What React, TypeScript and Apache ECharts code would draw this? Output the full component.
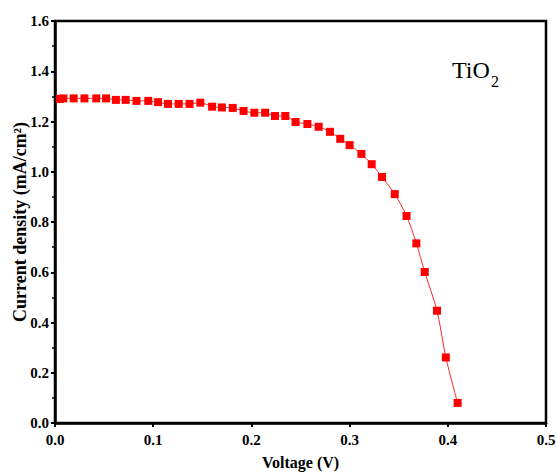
import React, { useEffect, useRef } from "react";
import * as echarts from "echarts";

const voltage = [0.005, 0.0085, 0.019, 0.030, 0.042, 0.052, 0.062, 0.072, 0.083, 0.095, 0.105, 0.115, 0.126, 0.137, 0.148, 0.160, 0.170, 0.181, 0.192, 0.203, 0.214, 0.224, 0.2345, 0.245, 0.257, 0.2685, 0.280, 0.2905, 0.300, 0.312, 0.3225, 0.333, 0.346, 0.358, 0.368, 0.3765, 0.389, 0.398, 0.410];
const current = [1.290, 1.292, 1.292, 1.292, 1.292, 1.292, 1.286, 1.286, 1.282, 1.282, 1.277, 1.270, 1.270, 1.270, 1.275, 1.259, 1.256, 1.254, 1.242, 1.235, 1.235, 1.222, 1.222, 1.198, 1.190, 1.179, 1.159, 1.131, 1.106, 1.071, 1.030, 0.979, 0.911, 0.824, 0.715, 0.601, 0.447, 0.261, 0.080];
const xTicks = ["0.0", "0.1", "0.2", "0.3", "0.4", "0.5"];
const yTicks = ["0.0", "0.2", "0.4", "0.6", "0.8", "1.0", "1.2", "1.4", "1.6"];

const FONT = "'Liberation Serif', 'DejaVu Serif', serif";

export default function App() {
  const ref = useRef<HTMLDivElement>(null);
  useEffect(() => {
    if (!ref.current) return;
    const chart = echarts.init(ref.current, undefined, { renderer: "svg" });
    const data = voltage.map((v, i) => [v, current[i]]);
    chart.setOption({
      animation: false,
      backgroundColor: "#ffffff",
      grid: {
        left: 55,
        right: 11,
        top: 21,
        bottom: 49,
        containLabel: false,
        outerBoundsMode: "none",
        show: true,
        borderColor: "#000",
        borderWidth: 2.5,
        backgroundColor: "transparent",
      },
      xAxis: {
        type: "value",
        min: 0,
        max: 0.5,
        interval: 0.1,
        name: "Voltage (V)",
        nameLocation: "middle",
        nameGap: 31,
        nameMoveOverlap: false,
        nameTextStyle: { fontFamily: FONT, fontWeight: "bold", fontSize: 16, color: "#000" },
        axisLine: { show: true, lineStyle: { color: "#000", width: 2.5 } },
        axisTick: { show: true, inside: false, length: 4, lineStyle: { color: "#000", width: 2 } },
        axisLabel: {
          fontFamily: FONT,
          fontWeight: "bold",
          fontSize: 15,
          color: "#000",
          margin: 9,
          formatter: (v: number) => xTicks[Math.round(v * 10)] ?? "",
        },
        splitLine: { show: false },
      },
      yAxis: {
        type: "value",
        min: 0,
        max: 1.6,
        interval: 0.2,
        name: "Current density (mA/cm²)",
        nameLocation: "middle",
        nameGap: 26,
        nameMoveOverlap: false,
        nameTextStyle: { fontFamily: FONT, fontWeight: "bold", fontSize: 18, color: "#000" },
        axisLine: { show: true, lineStyle: { color: "#000", width: 2.5 } },
        axisTick: { show: true, inside: false, length: 4, lineStyle: { color: "#000", width: 2 } },
        minorTick: { show: true, splitNumber: 2, length: 3, lineStyle: { color: "#000", width: 1.5 } },
        axisLabel: {
          fontFamily: FONT,
          fontWeight: "bold",
          fontSize: 15,
          color: "#000",
          margin: 6,
          formatter: (v: number) => yTicks[Math.round(v * 5)] ?? "",
        },
        splitLine: { show: false },
      },
      graphic: [
        {
          type: "text",
          left: 452,
          top: 58,
          style: { text: "TiO", fontFamily: FONT, fontSize: 24, fill: "#000" },
        },
        {
          type: "text",
          left: 491,
          top: 73,
          style: { text: "2", fontFamily: FONT, fontSize: 16, fill: "#000" },
        },
      ],
      series: [
        {
          type: "line",
          data,
          smooth: 0.3,
          symbol: "rect",
          symbolSize: 8,
          lineStyle: { color: "#ff2a2a", width: 1 },
          itemStyle: { color: "#ff0000" },
        },
      ],
    });
    return () => chart.dispose();
  }, []);
  return (
    <div
      ref={ref}
      style={{ position: "fixed", left: 0, top: 0, width: 557, height: 472, background: "#fff" }}
    />
  );
}
